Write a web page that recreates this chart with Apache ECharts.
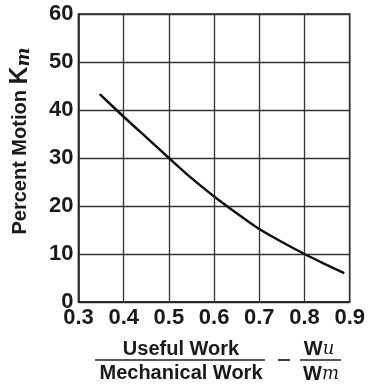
<!DOCTYPE html>
<html><head><meta charset="utf-8">
<script src="https://cdn.jsdelivr.net/npm/echarts@6/dist/echarts.min.js"></script>
<style>html,body{margin:0;padding:0;background:#fff}#c{width:368px;height:390px}</style>
</head><body><div id="c"></div>
<script>
var efficiency = [0.347, 0.40, 0.45, 0.50, 0.55, 0.60, 0.65, 0.70, 0.75, 0.80, 0.85, 0.888];
var percentMotion = [43.3, 38.6, 34.3, 30, 25.8, 22, 18.5, 15.2, 12.5, 10, 7.7, 6.0];
var xTicks = [0.3, 0.4, 0.5, 0.6, 0.7, 0.8, 0.9];
var yTicks = [0, 10, 20, 30, 40, 50, 60];

var chart = echarts.init(document.getElementById('c'));
var F = 'Liberation Sans, Arial, sans-serif';
var data = efficiency.map(function (x, i) { return [x, percentMotion[i]]; });
chart.setOption({
  animation: false,
  grid: { left: 72, right: 12, top: 14, bottom: 88, show: true, borderColor: '#222', borderWidth: 1.5 },
  xAxis: {
    type: 'value', min: xTicks[0], max: xTicks[xTicks.length - 1], interval: 0.1,
    axisLine: { lineStyle: { color: '#222', width: 1.5 } },
    axisTick: { show: false },
    splitLine: { lineStyle: { color: '#333', width: 1.3 } },
    axisLabel: { color: '#1a1a1a', fontFamily: F, fontSize: 22, fontWeight: 'bold', margin: 5,
      formatter: function (v) { return v.toFixed(1); } }
  },
  yAxis: {
    type: 'value', min: yTicks[0], max: yTicks[yTicks.length - 1], interval: 10,
    axisLine: { lineStyle: { color: '#222', width: 1.5 } },
    axisTick: { show: false },
    splitLine: { lineStyle: { color: '#333', width: 1.3 } },
    axisLabel: { color: '#1a1a1a', fontFamily: F, fontSize: 22, fontWeight: 'bold', margin: 5 },
    name: 'Percent Motion {k|K}{m|m}',
    nameLocation: 'middle', nameGap: 45, nameRotate: 90,
    nameTextStyle: { color: '#1a1a1a', fontFamily: F, fontSize: 20, fontWeight: 'bold', padding: [0, 0, 0, 34],
      rich: { k: { fontFamily: F, fontSize: 25, fontWeight: 'bold', color: '#1a1a1a' },
              m: { fontFamily: 'DejaVu Serif, serif', fontStyle: 'italic', fontSize: 18, color: '#1a1a1a', padding: [8, 0, 0, 0] } } }
  },
  series: [{
    type: 'line', data: data, smooth: 0.3, showSymbol: false,
    lineStyle: { color: '#111', width: 2.5 }
  }],
  graphic: [
    { type: 'text', x: 181, y: 349, style: { text: 'Useful Work', font: 'bold 20px ' + F, fill: '#1a1a1a', align: 'center', verticalAlign: 'middle' } },
    { type: 'line', shape: { x1: 95, y1: 360, x2: 265, y2: 360 }, style: { stroke: '#222', lineWidth: 1.5 } },
    { type: 'text', x: 181, y: 373, style: { text: 'Mechanical Work', font: 'bold 20px ' + F, fill: '#1a1a1a', align: 'center', verticalAlign: 'middle' } },
    { type: 'line', shape: { x1: 278, y1: 360, x2: 290, y2: 360 }, style: { stroke: '#222', lineWidth: 1.8 } },
    { type: 'text', x: 319, y: 349, style: { text: 'W{s|u}', font: 'bold 20px ' + F, fill: '#1a1a1a', align: 'center', verticalAlign: 'middle',
      rich: { s: { fontFamily: 'DejaVu Serif, serif', fontStyle: 'italic', fontSize: 18, fill: '#1a1a1a' } } } },
    { type: 'line', shape: { x1: 300, y1: 360, x2: 341, y2: 360 }, style: { stroke: '#222', lineWidth: 1.5 } },
    { type: 'text', x: 321, y: 374, style: { text: 'W{s|m}', font: 'bold 20px ' + F, fill: '#1a1a1a', align: 'center', verticalAlign: 'middle',
      rich: { s: { fontFamily: 'DejaVu Serif, serif', fontStyle: 'italic', fontSize: 18, fill: '#1a1a1a' } } } }
  ]
});
</script></body></html>
